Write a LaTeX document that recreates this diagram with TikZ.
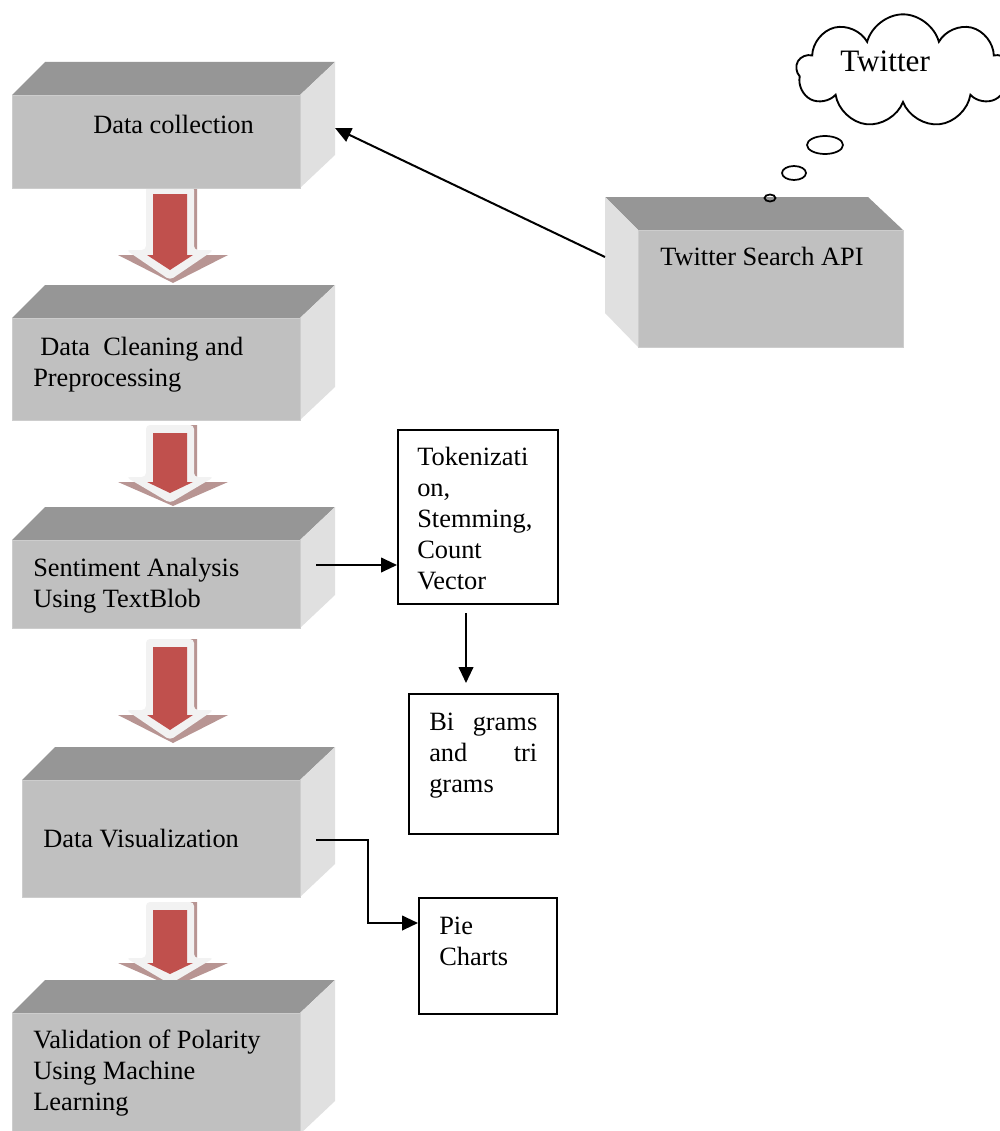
\documentclass[tikz,border=0pt]{standalone}
\usepackage{fontspec}
\setmainfont{Liberation Serif}
\usetikzlibrary{shapes.symbols,shapes.geometric,arrows.meta,calc}
\definecolor{frontc}{HTML}{C0C0C0}
\definecolor{frontedge}{HTML}{CDCDCD}
\definecolor{topc}{HTML}{969696}
\definecolor{sidec}{HTML}{E0E0E0}
\definecolor{redc}{HTML}{C0504D}
\definecolor{lightc}{HTML}{F2F2F2}
\definecolor{shadc}{HTML}{B89593}
\newdimen\pxu \pxu=0.75pt
% 3D box: name, left, top, right, bottom
\newcommand\cubebox[5]{%
  \fill[topc] (#2,#3) -- (#2+33,#3-33) -- (#4+35,#3-33) -- (#4,#3) -- cycle;
  \fill[sidec] (#4,#3) -- (#4+35,#3-33) -- (#4+35,#5-33) -- (#4,#5) -- cycle;
  \node[frontbox, minimum width={(#4-#2)*0.75}, minimum height={(#5-#3)*0.75}] (#1) at (#2,#3) {};
}
% block arrow: top, head base, tip (centre x = 170)
\newcommand\blockarrow[3]{%
  \fill[shadc] (150,#1) -- (197,#1) -- (197,#2+5) -- (228,#2+5) -- (173,#3+3) -- (118,#2+5) -- (150,#2+5) -- cycle;
  \fill[lightc, rounded corners=3] (146,#1) -- (194,#1) -- (194,#2) -- (214,#2) -- (170,#3) -- (126,#2) -- (146,#2) -- cycle;
  \fill[redc] (153,#1+8) -- (187,#1+8) -- (187,#2+5) -- (193,#2+5) -- (170,#3-10) -- (147,#2+5) -- (153,#2+5) -- cycle;
}
\begin{document}
\begin{tikzpicture}[x=0.75pt,y=-0.75pt,
  every node/.style={font=\fontsize{19.8pt}{23.25pt}\selectfont, inner sep=0pt},
  frontbox/.style={fill=frontc, draw=frontedge, line width=0.8pt, anchor=north west},
  plainbox/.style={draw, fill=white, line width=1.5pt, anchor=north west},
  lbl/.style={anchor=base west, align=left},
  conn/.style={line width=1.5pt, -{Triangle[length=12pt,width=11pt]}},
  bubble/.style={ellipse, draw, line width=1.3pt},
]
\useasboundingbox (0,0) rectangle (999,1131);
\fill[white] (0,0) rectangle (999,1131);

% block arrows
\blockarrow{186}{250}{280}
\blockarrow{425}{477}{503}
\blockarrow{639}{710}{740}
\blockarrow{902}{958}{984}

% 3D boxes
\cubebox{dc}{12}{95}{300}{188}
\cubebox{cl}{12}{318}{300}{420}
\cubebox{sa}{12}{540}{300}{628}
\cubebox{dv}{22}{780}{300}{897}
\cubebox{vp}{12}{1013}{300}{1134}

% Twitter Search API box (side face on the left)
\fill[topc] (638,230) -- (605,197) -- (868,197) -- (903,230) -- cycle;
\fill[sidec] (638,230) -- (605,197) -- (605,313) -- (638,347) -- cycle;
\node[frontbox, minimum width={265*0.75}, minimum height={117*0.75}] (api) at (638,230) {};

% texts of 3D boxes
\node[lbl] (t1) at (93,133) {Data collection};
\node[lbl] (t2) at (33,355) {\vtop{\hbox{\hspace*{7\pxu}Data\ \ Cleaning and}\hbox{Preprocessing}}};
\node[lbl] (t3) at (33,576) {\vtop{\hbox{Sentiment Analysis}\hbox{Using TextBlob}}};
\node[lbl] (t4) at (43,847) {Data Visualization};
\node[lbl] (t5) at (33,1048) {\vtop{\hbox{Validation of Polarity}\hbox{Using Machine}\hbox{Learning}}};
\node[lbl] (tapi) at (660,265) {Twitter Search API};

% cloud and thought bubbles
\node[cloud, cloud puffs=9, aspect=1.9, draw, line width=1.4pt, minimum width=160pt, minimum height=85pt] (cloud) at (903,71) {};
\node[lbl, font=\fontsize{23.4pt}{28pt}\selectfont] (ttw) at (840,72) {Twitter};
\node[bubble, minimum width=27pt, minimum height=13.5pt] (b1) at (825,145) {};
\node[bubble, minimum width=18pt, minimum height=10.5pt] (b2) at (794,173) {};
\node[bubble, minimum width=8.25pt, minimum height=5.25pt] (b3) at (770,198) {};

% plain boxes
\node[plainbox, minimum width=120pt, minimum height=130.5pt] (tok) at (397,429) {};
\node[plainbox, minimum width=111.75pt, minimum height=105pt] (bg) at (408,693) {};
\node[plainbox, minimum width=103.5pt, minimum height=87pt] (pie) at (418,897) {};
\node[lbl] (ttok) at (417,465) {\vtop{\hbox{Tokenizati}\hbox{on,}\hbox{Stemming,}\hbox{Count}\hbox{Vector}}};
\node[lbl] (tbg) at (429,730) {\vtop{\hbox{\makebox[81pt][s]{Bi grams}}\hbox{\makebox[81pt][s]{and tri}}\hbox{grams}}};
\node[lbl] (tpie) at (439,934) {\vtop{\hbox{Pie}\hbox{Charts}}};

% connectors
\coordinate (a0) at (605,257);
\coordinate (a1) at (335,128);
\draw[conn] (a0) -- (a1);
\coordinate (s3) at (316,565);
\draw[conn] (s3) -- (s3 -| tok.west);
\coordinate (v1) at (466,603);
\draw[conn, shorten <=7.5pt, shorten >=7.5pt] (v1) -- (v1 |- bg.north);
\coordinate (s4) at (316,840);
\coordinate (pin) at ($(pie.north west)+(0,26)$);
\draw[conn] (s4) -- ++(52,0) |- (pin);
\end{tikzpicture}
\end{document}
